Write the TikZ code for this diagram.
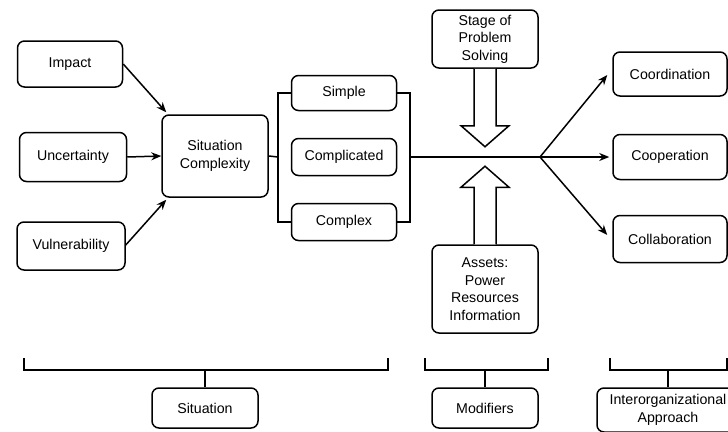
\documentclass[tikz,border=0pt]{standalone}
\usepackage{fontspec}
\setmainfont{Liberation Sans}
\usetikzlibrary{arrows.meta,calc}
\begin{document}
\begin{tikzpicture}[x=1pt,y=-1pt,
  line width=1.5pt,
  box/.style={draw, rounded corners=7pt, align=center, inner sep=2pt,
    font=\fontsize{14.2}{17.5}\selectfont, line width=1.5pt},
  arr/.style={-{Stealth[length=10pt,width=8pt]}, line width=1.5pt},
  hollow/.style={draw, fill=white, line width=1.5pt, line join=miter}]
\useasboundingbox (0,0) rectangle (728,431);

% situation factors
\node[box, minimum width=105pt, minimum height=46pt] (impact) at (70,64) {Impact};
\node[box, minimum width=107pt, minimum height=49pt] (uncert) at (73,157) {Uncertainty};
\node[box, minimum width=108pt, minimum height=48pt] (vuln) at (71,246) {Vulnerability};
\node[box, minimum width=106pt, minimum height=82pt] (sitc) at (215,156) {Situation\\Complexity};

% complexity levels
\node[box, minimum width=105pt, minimum height=35pt] (simple) at (344,93) {Simple};
\node[box, minimum width=105pt, minimum height=37pt] (compl) at (344,157) {Complicated};
\node[box, minimum width=105pt, minimum height=37pt] (complex) at (344,222) {Complex};

% modifiers
\node[box, minimum width=106pt, minimum height=58pt] (stage) at (485,39) {Stage of\\Problem\\Solving};
\node[box, minimum width=106pt, minimum height=88pt] (assets) at (485,289) {Assets:\\Power\\Resources\\Information};

% approaches
\node[box, minimum width=114pt, minimum height=44pt] (coord) at (670,74) {Coordination};
\node[box, minimum width=114pt, minimum height=45pt] (coop) at (670,157) {Cooperation};
\node[box, minimum width=114pt, minimum height=47pt] (collab) at (670,239) {Collaboration};

% category labels
\node[box, minimum width=106pt, minimum height=40pt] (situation) at (205,408) {Situation};
\node[box, minimum width=106pt, minimum height=40pt] (modifiers) at (485,408) {Modifiers};
\node[box, minimum width=142pt, minimum height=44pt] (interorg) at (668,410) {Interorganizational\\Approach};

% inputs to situation complexity
\draw[arr] (impact.east) -- ($(sitc.north west)+(5,-2)$);
\draw[arr] (uncert.east) -- (sitc.west);
\draw[arr] ($(vuln.east)+(0,-1)$) -- ($(sitc.south west)+(5,2)$);

% bracket around the complexity levels
\coordinate (bl) at (278,157);
\coordinate (br) at (410,157);
\coordinate (fork) at (540,157);
\draw (sitc.east) -- (bl);
\draw (simple.west) -| (bl) |- (complex.west);
\draw (simple.east) -| (br) |- (complex.east);
\draw (br) -- (fork);

% branches to the approaches
\draw[arr] (fork) -- ($(coord.west)+(-5,1)$);
\draw[arr] (fork) -- ($(coop.west)+(-3,0)$);
\draw[arr] (fork) -- ($(collab.west)+(-5,-4)$);

% hollow block arrows
\draw[hollow] ($(stage.south)+(-11,0)$) -- ++(0,57) -- ++(-13,0)
  -- ($(stage.south)+(0,78)$) -- ($(stage.south)+(24,57)$) -- ++(-13,0)
  -- ($(stage.south)+(11,0)$);
\draw[hollow] ($(assets.north)+(-11,0)$) -- ++(0,-57) -- ++(-13,0)
  -- ($(assets.north)+(0,-78)$) -- ($(assets.north)+(24,-57)$) -- ++(-13,0)
  -- ($(assets.north)+(11,0)$);

% braces over the category labels
\coordinate (s1) at (24,370);
\coordinate (s2) at (388,370);
\draw (24,358) -- (s1) -- (s2) -- (388,358);
\draw (situation.north |- s1) -- (situation.north);
\coordinate (m1) at (425,370);
\coordinate (m2) at (548,370);
\draw (425,358) -- (m1) -- (m2) -- (548,358);
\draw (modifiers.north |- m1) -- (modifiers.north);
\coordinate (i1) at (610,370);
\coordinate (i2) at (727,370);
\draw (610,358) -- (i1) -- (i2) -- (727,358);
\draw (interorg.north |- i1) -- (interorg.north);
\end{tikzpicture}
\end{document}
